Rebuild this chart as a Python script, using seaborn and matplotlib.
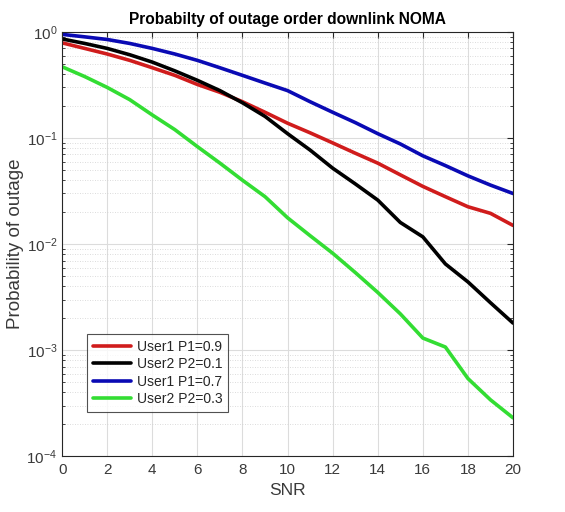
import numpy as np
import pandas as pd
import seaborn as sns
import matplotlib
matplotlib.use("Agg")
import matplotlib.pyplot as plt
from matplotlib.ticker import LogLocator, FixedLocator

snr = list(range(0, 21))
user1_p09 = [0.79, 0.70, 0.62, 0.54, 0.46, 0.39, 0.32, 0.27, 0.22, 0.175, 0.138,
             0.112, 0.09, 0.072, 0.058, 0.045, 0.035, 0.028, 0.0225, 0.0195, 0.015]
user2_p01 = [0.86, 0.78, 0.70, 0.61, 0.52, 0.43, 0.35, 0.28, 0.215, 0.16, 0.11,
             0.077, 0.052, 0.037, 0.026, 0.016, 0.0117, 0.0065, 0.0044, 0.0028, 0.0018]
user1_p07 = [0.95, 0.90, 0.85, 0.78, 0.70, 0.62, 0.54, 0.46, 0.39, 0.33, 0.28,
             0.22, 0.175, 0.14, 0.11, 0.088, 0.068, 0.055, 0.044, 0.036, 0.030]
user2_p03 = [0.47, 0.38, 0.30, 0.23, 0.165, 0.12, 0.083, 0.058, 0.040, 0.028, 0.0177,
             0.012, 0.0082, 0.0054, 0.0035, 0.0022, 0.0013, 0.00107, 0.00054, 0.00034, 0.00023]
labels = ["User1 P1=0.9", "User2 P2=0.1", "User1 P1=0.7", "User2 P2=0.3"]
colors = ["#d01c1c", "#000000", "#0a0ab4", "#33dd33"]
x_ticks = [0, 2, 4, 6, 8, 10, 12, 14, 16, 18, 20]

frames = []
for lab, vals in zip(labels, [user1_p09, user2_p01, user1_p07, user2_p03]):
    frames.append(pd.DataFrame({"SNR": snr, "P": vals, "series": lab}))
df = pd.concat(frames, ignore_index=True)

sns.set_style("white")
plt.rcParams['font.family'] = ['Liberation Sans', 'DejaVu Sans']
plt.rcParams['mathtext.fontset'] = 'custom'
plt.rcParams['mathtext.rm'] = 'Liberation Sans'
plt.rcParams['mathtext.it'] = 'Liberation Sans'

fig = plt.figure(figsize=(5.65, 5.12), dpi=100)
ax = fig.add_axes([0.11, 0.109, 0.798, 0.8285])

sns.lineplot(data=df, x="SNR", y="P", hue="series", hue_order=labels,
             palette=colors, linewidth=2.6, ax=ax, legend=True)

ax.set_yscale("log")
ax.set_xlim(0, 20)
ax.set_ylim(1e-4, 1)
ax.xaxis.set_major_locator(FixedLocator(x_ticks))
ax.yaxis.set_major_locator(LogLocator(base=10, numticks=10))
ax.yaxis.set_minor_locator(LogLocator(base=10, subs=np.arange(2, 10), numticks=10))
ax.grid(True, which="major", color="#dcdcdc", linewidth=0.8, linestyle="-")
ax.grid(True, which="minor", axis="y", color="#d0d0d0", linewidth=0.6, linestyle=(0, (1, 2)))
ax.set_axisbelow(True)

tc = "#3a3a3a"
ax.tick_params(axis="both", which="major", direction="in", length=4, labelsize=11,
               colors="#262626", labelcolor=tc, top=True, right=True)
ax.tick_params(axis="x", which="major", pad=5)
ax.tick_params(axis="y", which="minor", direction="in", length=2, left=True, right=True)
for s in ax.spines.values():
    s.set_color("#262626")
    s.set_linewidth(0.8)

ax.set_xlabel("SNR", fontsize=12.5, color=tc, labelpad=4)
ax.set_ylabel("Probability of outage", fontsize=13.5, color=tc, labelpad=2)
ax.set_title("Probabilty of outage order downlink NOMA", fontsize=11.2,
             fontweight="bold", color="#000000", pad=6)

leg = ax.legend(loc="lower left", bbox_to_anchor=(0.055, 0.105), fontsize=10,
                frameon=True, fancybox=False, edgecolor="#262626",
                handlelength=2.8, handletextpad=0.4, borderpad=0.4,
                labelspacing=0.25, borderaxespad=0)
leg.get_frame().set_linewidth(0.8)
for h in leg.get_lines():
    h.set_linewidth(2.6)

fig.savefig("out.png", dpi=100, facecolor="white")
